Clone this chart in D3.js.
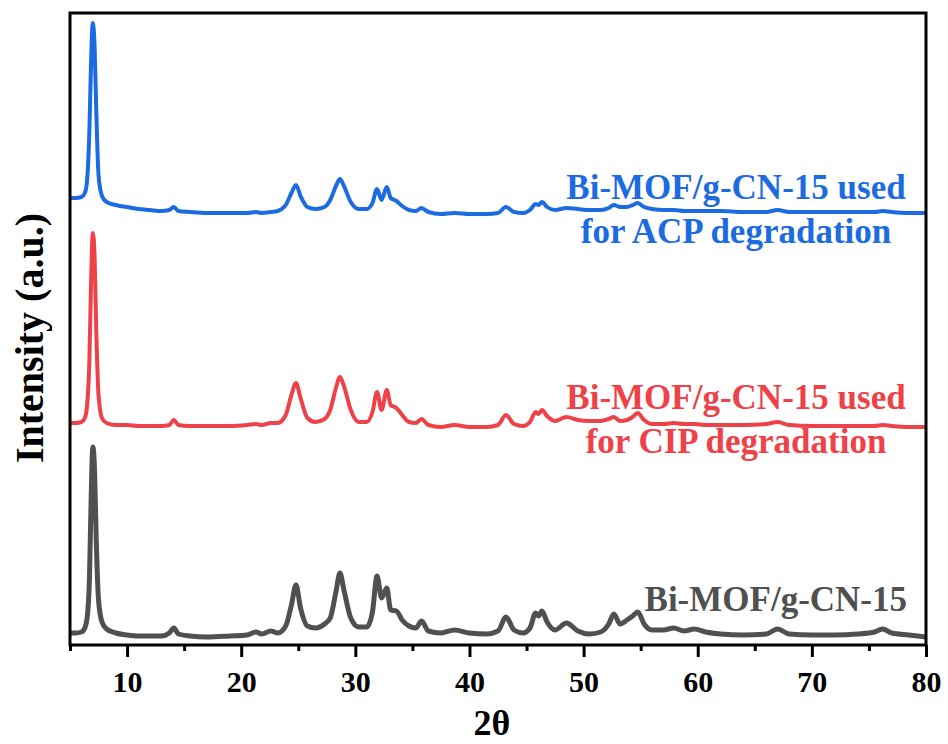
<!DOCTYPE html>
<html>
<head>
<meta charset="utf-8">
<script src="https://cdn.jsdelivr.net/npm/d3@7"></script>
<style>
  body { margin: 0; background: #fff; }
</style>
</head>
<body>
<div id="app"></div>
<script>
// 2theta sample positions (deg)
const twoTheta = [5, 5.5, 6, 6.3, 6.5, 6.7, 6.85, 7.0, 7.15, 7.3,
  7.5, 7.8, 8.2, 9, 10, 11, 12, 13, 13.7, 14.1,
  14.5, 15.5, 17, 19, 20.5, 21.3, 21.8, 22.6, 23.2, 23.9,
  24.4, 24.8, 25.2, 25.8, 26.5, 27.3, 27.8, 28.3, 28.65, 29.0,
  29.6, 30.3, 31.0, 31.5, 31.9, 32.3, 32.75, 33.1, 33.6, 34.1,
  34.7, 35.3, 35.8, 36.4, 37.5, 38.7, 40, 41.5, 42.5, 43.2,
  43.9, 44.7, 45.3, 45.8, 46.05, 46.35, 46.8, 47.5, 48.5, 49.5,
  50.5, 51.5, 52.2, 52.65, 53.2, 53.8, 54.3, 54.75, 55.3, 56,
  57, 57.9, 58.8, 59.7, 60.7, 62, 64, 66, 67, 68,
  70, 72, 74, 75.5, 76.2, 77, 78.5, 80]

// intensities (a.u., stacked offsets included)
const pristine = [12, 12, 13, 17, 27, 65, 145, 198, 175, 105,
  45, 23, 16, 12, 10, 9, 9, 9, 12, 17,
  11, 9, 8, 9, 10, 13, 11, 14, 12, 19,
  40, 60, 37, 19, 17, 21, 27, 53, 72, 55,
  27, 18, 18, 33, 69, 47, 57, 35, 34, 25,
  19, 17, 24, 14, 12, 15, 12, 11, 14, 28,
  15, 12, 17, 32, 29, 34, 23, 15, 22, 14,
  11, 13, 21, 31, 21, 25, 29, 33, 21, 15,
  15, 17, 14, 16, 13, 11, 10, 11, 16, 11,
  10, 10, 11, 13, 16, 12, 10, 8]

const usedCIP = [222, 222, 223, 227, 240, 285, 365, 412, 390, 315,
  250, 227, 222, 220, 220, 219, 219, 219, 220, 225,
  220, 219, 219, 219, 220, 221, 220, 222, 222, 230,
  250, 262, 247, 227, 223, 226, 235, 257, 268, 259,
  235, 223, 223, 233, 253, 235, 255, 240, 237, 230,
  223, 222, 226, 220, 218, 220, 218, 218, 220, 230,
  221, 219, 223, 233, 231, 235, 229, 224, 228, 225,
  224, 224, 226, 228, 224, 225, 228, 232, 225, 221,
  221, 222, 221, 221, 220, 220, 220, 221, 223, 220,
  219, 219, 219, 219, 220, 219, 218, 218]

const usedACP = [447, 447, 448, 452, 465, 515, 585, 622, 600, 535,
  470, 449, 443, 440, 438, 436, 435, 434, 435, 438,
  434, 433, 432, 432, 432, 433, 432, 433, 434, 440,
  452, 460, 449, 438, 436, 438, 445, 459, 466, 459,
  443, 436, 436, 442, 456, 445, 458, 447, 444, 439,
  435, 434, 437, 433, 431, 432, 431, 431, 432, 438,
  433, 432, 435, 441, 440, 443, 438, 435, 437, 436,
  435, 435, 437, 440, 438, 438, 440, 442, 438, 436,
  435, 435, 434, 434, 434, 434, 433, 433, 435, 433,
  433, 433, 433, 433, 434, 433, 432, 432]

const seriesNames = ['Bi-MOF/g-CN-15', 'Bi-MOF/g-CN-15 used|for CIP degradation', 'Bi-MOF/g-CN-15 used|for ACP degradation']
const majorTicks = [10, 20, 30, 40, 50, 60, 70, 80]
const minorTicks = [5, 15, 25, 35, 45, 55, 65, 75]

const W = 948, H = 744
const mLeft = 70, mRight = 926, mTop = 13, mBottom = 645
const FONT = 'Liberation Serif, Times New Roman, serif'

d3.select('#app').append('svg').attr('width', W).attr('height', H)
let svg = d3.select('svg')

const x = d3.scaleLinear().domain([5, 80]).range([mLeft, mRight])
const y = d3.scaleLinear().domain([0, 632]).range([mBottom, mTop])

const series = [
  {name: seriesNames[0], vals: pristine, color: '#505050', w: 5, lx: 907, ly: 611, anchor: 'end'},
  {name: seriesNames[1], vals: usedCIP, color: '#ef4148', w: 4, lx: 736, ly: 409, anchor: 'middle'},
  {name: seriesNames[2], vals: usedACP, color: '#1d6be0', w: 4, lx: 736, ly: 199, anchor: 'middle'}
]

const line = d3.line()
  .x((d, i) => x(twoTheta[i]))
  .y(d => y(d))
  .curve(d3.curveMonotoneX)

svg.selectAll('path.xrd').data(series).enter().append('path')
  .attr('class', 'xrd')
  .attr('d', d => line(d.vals))
  .attr('fill', 'none')
  .attr('stroke', d => d.color)
  .attr('stroke-width', d => d.w)
  .attr('stroke-linejoin', 'round')

// labels
series.forEach(s => {
  const t = svg.append('text')
    .attr('x', s.lx).attr('y', s.ly)
    .attr('text-anchor', s.anchor)
    .attr('font-family', FONT).attr('font-weight', 'bold')
    .attr('font-size', 35)
    .attr('fill', s.color)
  s.name.split('|').forEach((part, i) => {
    t.append('tspan').attr('x', s.lx).attr('dy', i ? 44 : 0).text(part)
  })
})

// frame
svg.append('rect')
  .attr('x', mLeft).attr('y', mTop)
  .attr('width', mRight - mLeft).attr('height', mBottom - mTop)
  .attr('fill', 'none').attr('stroke', '#000').attr('stroke-width', 3)

// x axis
const gx = svg.append('g').attr('transform', `translate(0,${mBottom})`)
gx.call(d3.axisBottom(x).tickValues(majorTicks).tickSize(12).tickPadding(14).tickSizeOuter(0))
gx.attr('font-family', FONT).attr('font-size', 30).attr('font-weight', 'bold')
gx.select('.domain').remove()
gx.selectAll('.tick line').attr('stroke', '#000').attr('stroke-width', 3)
gx.selectAll('.tick text').attr('fill', '#000')

const gm = svg.append('g').attr('transform', `translate(0,${mBottom})`)
gm.call(d3.axisBottom(x).tickValues(minorTicks).tickSize(6).tickFormat('').tickSizeOuter(0))
gm.select('.domain').remove()
gm.selectAll('.tick line').attr('stroke', '#000').attr('stroke-width', 3)

// titles
svg.append('text')
  .attr('x', 492).attr('y', 735)
  .attr('text-anchor', 'middle')
  .attr('font-family', FONT).attr('font-weight', 'bold')
  .attr('font-size', 36)
  .text('2θ')

svg.append('text')
  .attr('transform', 'translate(43,338) rotate(-90)')
  .attr('text-anchor', 'middle')
  .attr('font-family', FONT).attr('font-weight', 'bold')
  .attr('font-size', 40)
  .text('Intensity (a.u.)')
</script>
</body>
</html>
